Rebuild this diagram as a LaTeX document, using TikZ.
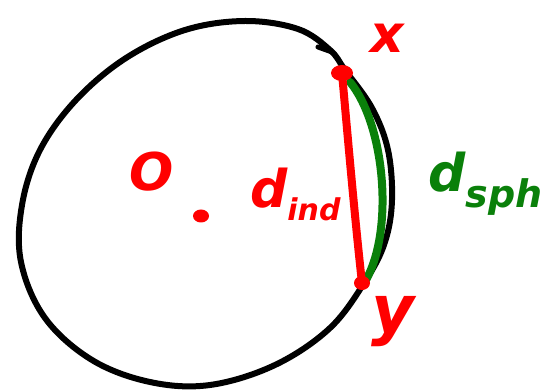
\documentclass[tikz,border=0pt]{standalone}
\usepackage{fontspec}
\setmainfont{DejaVu Sans}
\definecolor{pen red}{RGB}{255,0,0}
\definecolor{pen green}{RGB}{10,128,10}
\tikzset{
  ink/.style={line width=#1, line cap=round, line join=round},
  redlabel/.style={text=pen red, font=\fontsize{52}{52}\selectfont\bfseries\itshape, inner sep=0pt},
  greenlabel/.style={text=pen green, font=\fontsize{52}{52}\selectfont\bfseries\itshape, inner sep=0pt}
}
\begin{document}
\begin{tikzpicture}[x=1pt,y=-1pt]
\useasboundingbox (0,0) rectangle (544,390);
% circle-like outline
\draw[ink=6pt, black] plot[smooth cycle, tension=0.6] coordinates {
 (345,70) (372,108) (388,150) (392,200) (385,242) (366,280)
 (330,328) (275,365) (210,385) (150,382) (92,360) (45,318)
 (21,262) (22,205) (40,150) (76,100) (126,58) (185,30)
 (245,21) (298,29) (330,50)};
\draw[ink=5pt, black] (332,52) -- (318,47);
% points
\coordinate (X) at (342,73);
\coordinate (Y) at (362,283);
\coordinate (Xg) at (350,82);
\coordinate (Yg) at (366,280);
% green arc
\draw[ink=8pt, pen green] (Xg) .. controls (385,125) and (394,230) .. (Yg);
% red chord
\draw[ink=8pt, pen red] (X) .. controls (348,140) and (355,220) .. (Y);
\fill[pen red] (X) ellipse (11pt and 8pt);
\fill[pen red] (Y) ellipse (8pt and 7pt);
% centre
\fill[pen red] (201,216) ellipse (8pt and 6.5pt) coordinate (C);
% labels
\node[redlabel] (lx) at (387,38) {x};
\node[redlabel, font=\fontsize{66}{66}\selectfont\bfseries\itshape] (ly) at (393,322) {y};
\node[redlabel] (lO) at (152,172) {O};
\node[redlabel, anchor=base west] (ld) at (250,208) {d\raisebox{-0.25em}{\fontsize{30}{30}\selectfont ind}};
\node[greenlabel, anchor=base west] (ls) at (428,192) {d\raisebox{-0.3em}{\fontsize{38}{38}\selectfont sph}};
\end{tikzpicture}
\end{document}
